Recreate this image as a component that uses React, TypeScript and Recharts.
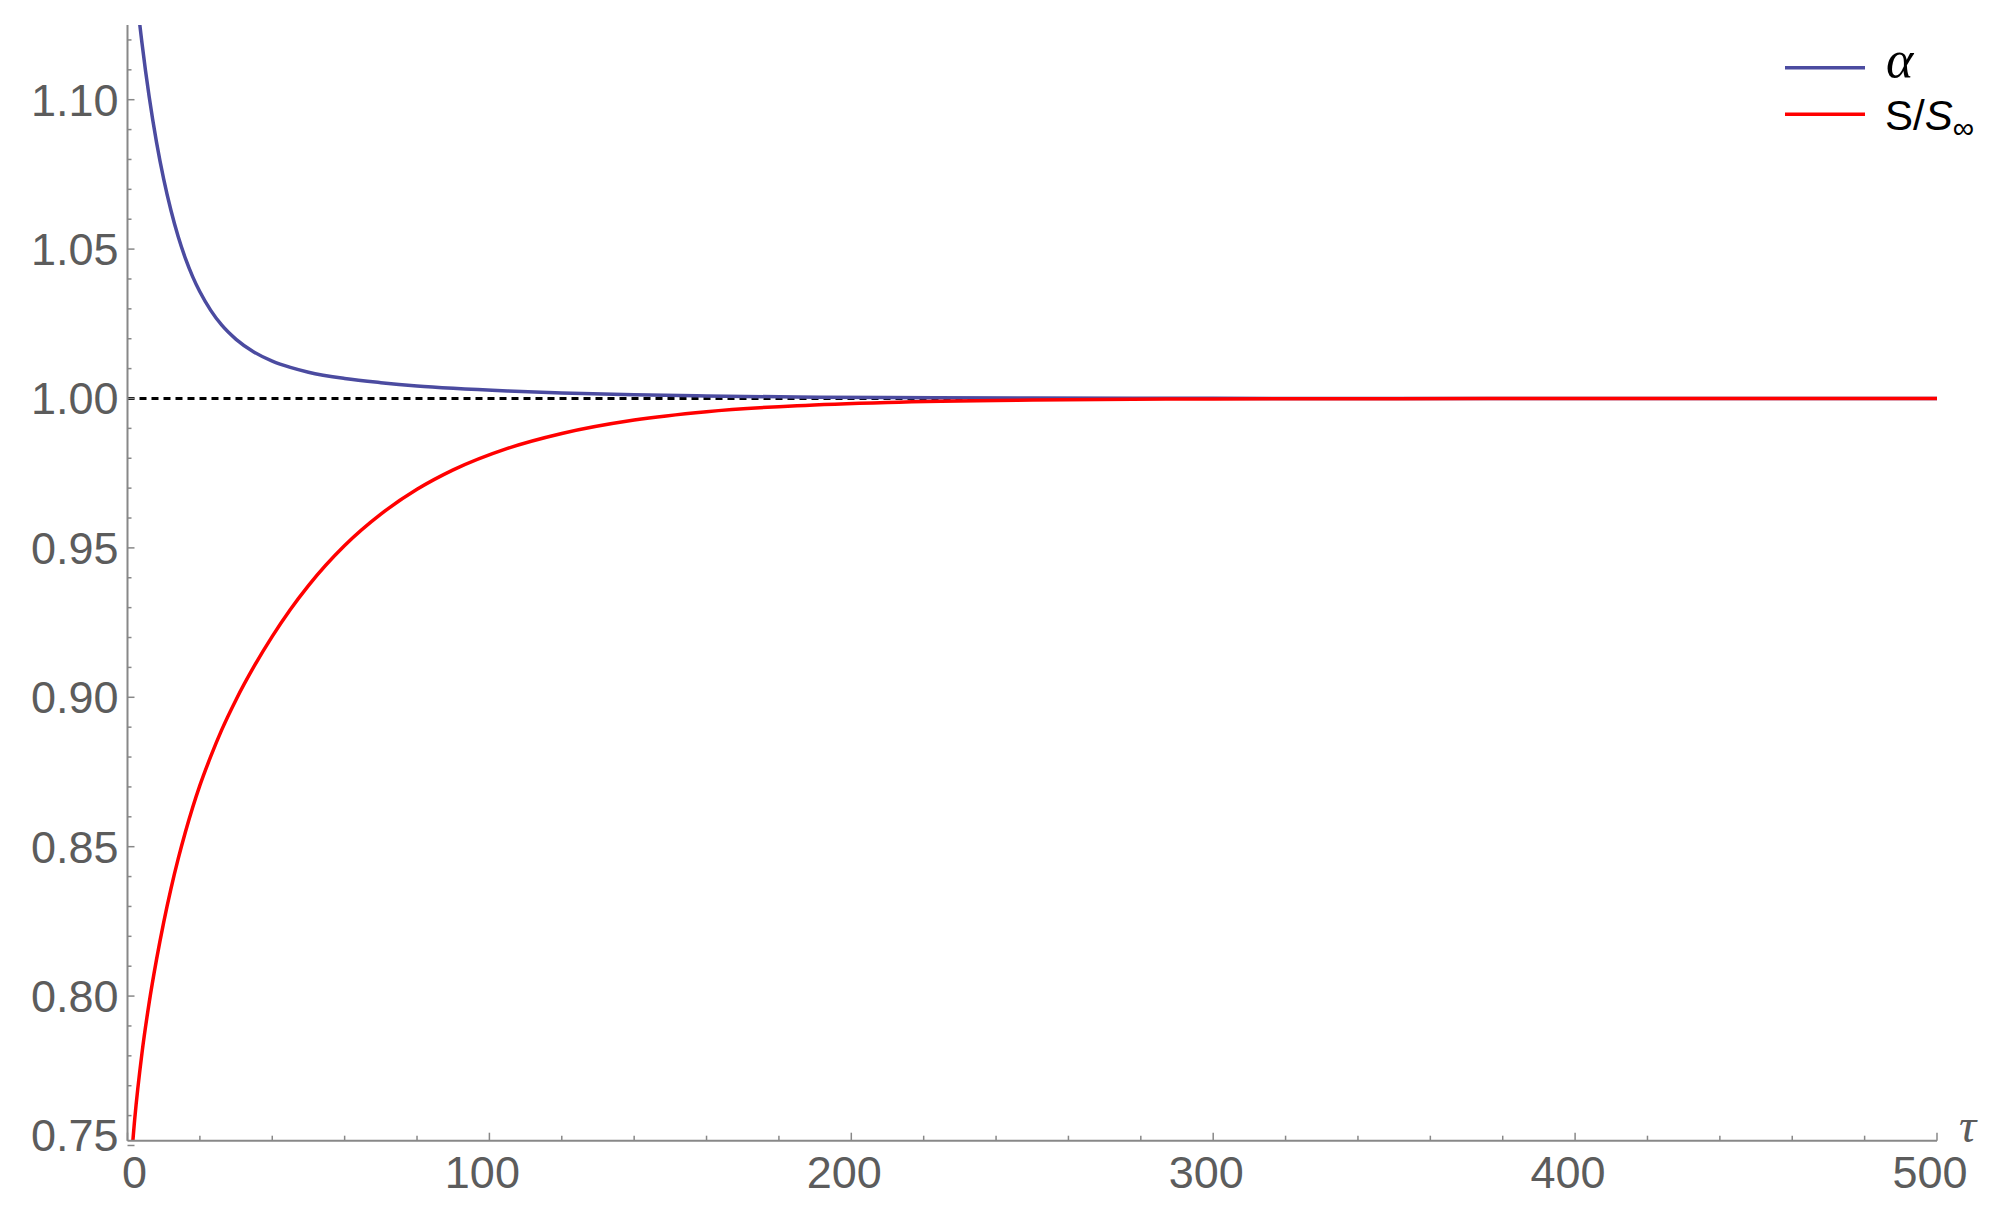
import { LineChart, Line, XAxis, YAxis, ReferenceLine, Legend, Label } from 'recharts';

const TAU = [0, 2, 4, 6, 8, 10, 12, 14, 16, 18, 20, 23, 26, 30, 35, 40, 45, 50, 60, 70, 80, 90, 105, 120, 140, 160, 185, 210, 250, 300, 350, 400, 450, 500];
const ALPHA = [1.1667, 1.1406, 1.119, 1.1009, 1.0859, 1.0734, 1.063, 1.0542, 1.0469, 1.0408, 1.0357, 1.0295, 1.0246, 1.0198, 1.0155, 1.0125, 1.0104, 1.0088, 1.0067, 1.0053, 1.0042, 1.0034, 1.0025, 1.00185, 1.00124, 1.00083, 1.0005, 1.0003, 1.00014, 1.00005, 1.00002, 1.0, 1.0, 1.0];
const S_RATIO = [0.7279, 0.7589, 0.7809, 0.7979, 0.8121, 0.8247, 0.8359, 0.8459, 0.8549, 0.8631, 0.8705, 0.8802, 0.889, 0.8992, 0.9104, 0.9204, 0.9294, 0.9374, 0.9508, 0.9613, 0.9696, 0.9761, 0.9833, 0.9883, 0.9928, 0.9956, 0.9976, 0.9987, 0.9995, 0.99985, 0.99995, 1.0, 1.0, 1.0];

const X_MAJOR = [0, 100, 200, 300, 400, 500];
const Y_MAJOR = [0.75, 0.8, 0.85, 0.9, 0.95, 1.0, 1.05, 1.1];
const X_TICKS = Array.from({ length: 26 }, (_, i) => i * 20);
const Y_TICKS = Array.from({ length: 38 }, (_, i) => Math.round((0.75 + i * 0.01) * 100) / 100);

const data = TAU.map((t, i) => ({ tau: t, alpha: ALPHA[i], s: S_RATIO[i] }));

const BLUE = '#4b4ba0';
const RED = '#ff0000';
const AXIS = '#888888';
const LABEL = '#5c5c5c';
const FONT = '"Liberation Sans", Arial, sans-serif';
const SERIF = '"Liberation Serif", serif';

const XTick = (props: any) => {
  const { x, y, payload } = props;
  const v = payload.value;
  const major = X_MAJOR.includes(v);
  const shift = v === 0 ? 7 : -7;
  return (
    <g>
      <line x1={x} x2={x} y1={y} y2={y - (major ? 8 : 5)} stroke={AXIS} strokeWidth={1.5} />
      {major && (
        <text x={x + shift} y={y + 47} textAnchor="middle" fill={LABEL} fontSize={45} fontFamily={FONT}>
          {v}
        </text>
      )}
    </g>
  );
};

const YTick = (props: any) => {
  const { x, y, payload } = props;
  const v = payload.value;
  const major = Y_MAJOR.some((m) => Math.abs(m - v) < 1e-6);
  // lowest label sits a little above its tick, as in the original
  const ly = v < 0.755 ? y - 10 : y;
  return (
    <g>
      <line x1={x} x2={x + (major ? 7 : 4)} y1={y} y2={y} stroke={AXIS} strokeWidth={1.5} />
      {major && (
        <text x={x - 9} y={ly + 16} textAnchor="end" fill={LABEL} fontSize={45} fontFamily={FONT}>
          {v.toFixed(2)}
        </text>
      )}
    </g>
  );
};

const renderLegend = () => (
  <svg width={220} height={130}>
    <line x1={5} x2={85} y1={47.7} y2={47.7} stroke={BLUE} strokeWidth={3.5} />
    <line x1={5} x2={85} y1={94.3} y2={94.3} stroke={RED} strokeWidth={3.5} />
    <text x={106} y={57} fontSize={52} fontStyle="italic" fontFamily={SERIF} fill="#000">
      α
    </text>
    <text x={105} y={110} fontSize={42} fontFamily={FONT} fill="#000">
      S/<tspan fontStyle="italic">S</tspan>
      <tspan fontSize={30} dy={8}>∞</tspan>
    </text>
  </svg>
);

const renderTau = (props: any) => {
  const vb = props.viewBox;
  return (
    <text x={vb.x + vb.width + 22} y={vb.y + 1} fontSize={48} fontStyle="italic" fontFamily={SERIF} fill={LABEL}>
      τ
    </text>
  );
};

export default function App() {
  return (
    <div style={{ position: 'absolute', left: 0, top: 0, width: 2003, height: 1218, background: '#fff' }}>
      <LineChart width={2003} height={1218} data={data} margin={{ top: 25, right: 66, bottom: 17.3, left: 0 }}>
        <XAxis
          dataKey="tau"
          type="number"
          domain={[0, 500]}
          ticks={X_TICKS}
          interval={0}
          height={60}
          tickSize={0}
          tickMargin={0}
          tickLine={false}
          axisLine={{ stroke: AXIS, strokeWidth: 2 }}
          tick={<XTick />}
          allowDataOverflow
        >
          <Label content={renderTau} />
        </XAxis>
        <YAxis
          type="number"
          domain={[0.7516, 1.125]}
          ticks={Y_TICKS}
          interval={0}
          width={127.5}
          tickSize={0}
          tickMargin={0}
          tickLine={false}
          axisLine={{ stroke: AXIS, strokeWidth: 2 }}
          tick={<YTick />}
          allowDataOverflow
        />
        <ReferenceLine y={1} stroke="#000" strokeWidth={3} strokeDasharray="7 5" />
        <Line type="monotone" dataKey="alpha" stroke={BLUE} strokeWidth={3.5} dot={false} isAnimationActive={false} />
        <Line type="monotone" dataKey="s" stroke={RED} strokeWidth={3.5} dot={false} isAnimationActive={false} />
        <Legend
          layout="vertical"
          align="center"
          verticalAlign="middle"
          content={renderLegend}
          wrapperStyle={{ position: 'absolute', left: 1780, top: 20, width: 220, height: 130 }}
        />
      </LineChart>
    </div>
  );
}
